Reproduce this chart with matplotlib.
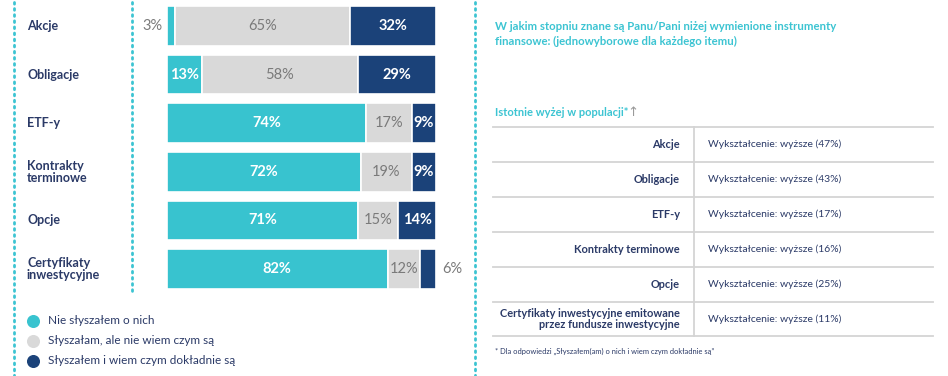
import matplotlib
matplotlib.use("Agg")
import matplotlib.pyplot as plt
from matplotlib.transforms import blended_transform_factory

plt.rcParams['font.family'] = ['Lato', 'DejaVu Sans']

# data
categories = ['Akcje', 'Obligacje', 'ETF-y', 'Kontrakty\nterminowe', 'Opcje', 'Certyfikaty\ninwestycyjne']
nie_slyszal = [3, 13, 74, 72, 71, 82]
slyszal_nie_wie = [65, 58, 17, 19, 15, 12]
wie_dokladnie = [32, 29, 9, 9, 14, 6]
legend_labels = ['Nie słyszałem o nich', 'Słyszałam, ale nie wiem czym są', 'Słyszałem i wiem czym dokładnie są']

title_lines = ['W jakim stopniu znane są Panu/Pani niżej wymienione instrumenty',
               'finansowe: (jednowyborowe dla każdego itemu)']
table_items = ['Akcje', 'Obligacje', 'ETF-y', 'Kontrakty terminowe', 'Opcje',
               'Certyfikaty inwestycyjne emitowane\nprzez fundusze inwestycyjne']
table_values = ['Wykształcenie: wyższe (47%)', 'Wykształcenie: wyższe (43%)', 'Wykształcenie: wyższe (17%)',
                'Wykształcenie: wyższe (16%)', 'Wykształcenie: wyższe (25%)', 'Wykształcenie: wyższe (11%)']
footnote = '* Dla odpowiedzi „Słyszałem(am) o nich i wiem czym dokładnie są”'

cyan = '#38c3cf'
grey = '#d9d9d9'
navy = '#1b4279'
text_navy = '#2b3a67'
text_grey = '#7a7a7a'
dot_col = '#3cc4d2'

W, H = 948, 376
fig = plt.figure(figsize=(W / 100, H / 100), dpi=100)

# pixel overlay axes for decorations
bg = fig.add_axes([0, 0, 1, 1])
bg.set_xlim(0, W)
bg.set_ylim(H, 0)
bg.axis('off')

# dotted separators
for x, y0, y1 in [(14, 2, 376), (132, 2, 295), (475, 2, 376)]:
    bg.plot([x, x], [y0, y1], color=dot_col, lw=2, linestyle=(0, (0.6, 1.6)),
            dash_capstyle='round', solid_capstyle='round')

# bar chart
ax = fig.add_axes([167 / W, 1 - 289 / H, 269 / W, 283 / H])
ax.set_xlim(0, 100)
ypos = list(range(len(categories)))
bar_h = 0.82
left = [0] * len(categories)
series = [(nie_slyszal, cyan, 'white', 'bold'),
          (slyszal_nie_wie, grey, text_grey, 'normal'),
          (wie_dokladnie, navy, 'white', 'bold')]
for si, (vals, col, tcol, tw) in enumerate(series):
    ax.barh(ypos, vals, left=left, height=bar_h, color=col, edgecolor='white', linewidth=1.2)
    for i, v in enumerate(vals):
        cx = left[i] + v / 2
        if v < 8:
            if si == 0:
                ax.text(left[i] - 1.5, i, f'{v}%', ha='right', va='center', color=text_grey,
                        fontsize=10.5)
            else:
                ax.text(left[i] + v + 2.2, i, f'{v}%', ha='left', va='center', color=text_grey,
                        fontsize=10.5)
        else:
            ax.text(cx, i, f'{v}%', ha='center', va='center', color=tcol, fontsize=10.5,
                    fontweight=tw)
    left = [l + v for l, v in zip(left, vals)]
ax.set_ylim(len(categories) - 1 + bar_h / 2, -bar_h / 2)
ax.axis('off')

tr = blended_transform_factory(fig.transFigure, ax.transData)
for i, c in enumerate(categories):
    fig.text(27 / W, i, c, transform=tr, ha='left', va='center', color=text_navy,
             fontsize=9, fontweight='bold', linespacing=0.95)

# legend
for k, (lab, col) in enumerate(zip(legend_labels, [cyan, grey, navy])):
    y = 321 + k * 20
    bg.scatter([33], [y], s=70, color=col, zorder=3)
    bg.text(48, y, lab, ha='left', va='center', color=text_navy, fontsize=8.5)

# right panel
bg.text(495, 27, title_lines[0], ha='left', va='center', color=dot_col, fontsize=8.2, fontweight='bold')
bg.text(495, 41, title_lines[1], ha='left', va='center', color=dot_col, fontsize=8.2, fontweight='bold')
bg.text(495, 112, 'Istotnie wyżej w populacji*', ha='left', va='center', color=dot_col,
        fontsize=8, fontweight='bold')
bg.text(627, 113, '↑', ha='left', va='center', color='#9a9a9a', fontsize=9.5,
        family='DejaVu Sans')

row_lines = [127, 162, 197, 232, 267, 302, 336]
for y in row_lines:
    bg.plot([493, 933], [y, y], color='#d4d4d4', lw=1.3)
bg.plot([694, 694], [row_lines[0], row_lines[-1]], color='#d4d4d4', lw=1.3)
for i, (item, val) in enumerate(zip(table_items, table_values)):
    yc = (row_lines[i] + row_lines[i + 1]) / 2
    bg.text(680, yc, item, ha='right', va='center', color=text_navy, fontsize=7.9,
            fontweight='bold', multialignment='right', linespacing=1.1)
    bg.text(708, yc, val, ha='left', va='center', color=text_navy, fontsize=7.5)

bg.text(495, 351, footnote, ha='left', va='center', color=text_navy, fontsize=5.4)

fig.savefig('out.png', dpi=100)
